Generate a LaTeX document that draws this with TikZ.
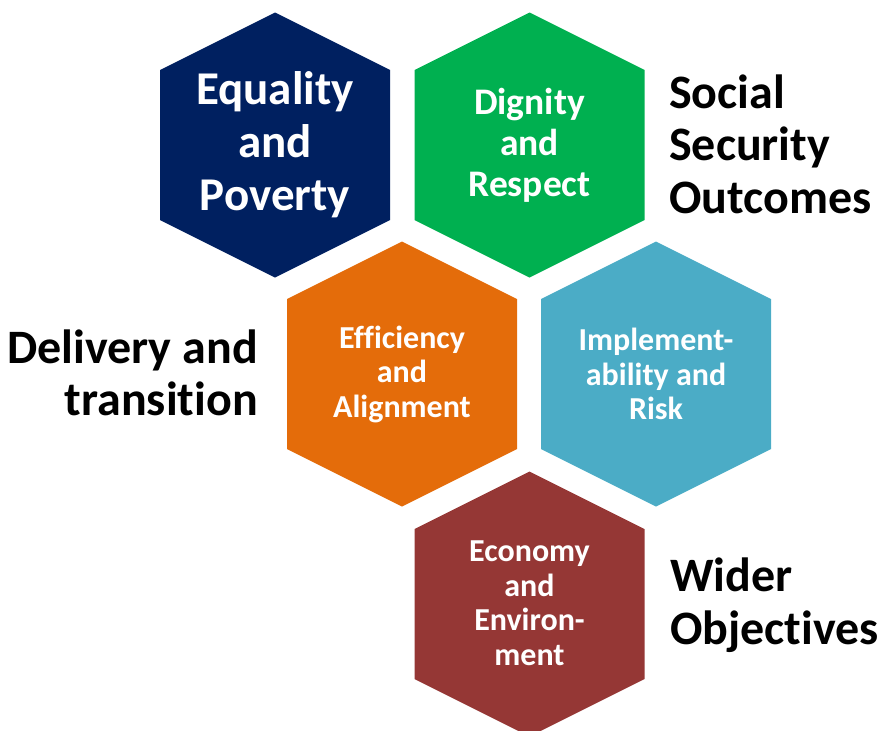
\documentclass[tikz,border=0pt]{standalone}
\usepackage{fontspec}
\setmainfont{Carlito}[Ligatures=NoCommon]
\definecolor{hexnavy}{HTML}{002060}
\definecolor{hexgreen}{HTML}{00B050}
\definecolor{hexorange}{HTML}{E46C0A}
\definecolor{hexteal}{HTML}{4BACC6}
\definecolor{hexred}{HTML}{953735}
% pointy-top hexagon centred on (#1) with fill colour #2
\newcommand\hexcell[2]{\fill[#2] (#1) ++(0,-132.5) -- ++(115,57.5) -- ++(0,150) -- ++(-115,57.5) -- ++(-115,-57.5) -- ++(0,-150) -- cycle;}
\begin{document}
\begin{tikzpicture}[x=1pt,y=-1pt,
  hextext/.style={text=white,align=center,inner sep=0pt},
  bigtext/.style={hextext,font=\bfseries\fontsize{47}{53}\selectfont},
  midtext/.style={hextext,font=\bfseries\fontsize{37.5}{41}\selectfont},
  smalltext/.style={hextext,font=\bfseries\fontsize{32}{34.5}\selectfont},
  sidelabel/.style={text=black,inner sep=0pt,font=\bfseries\fontsize{48}{52.5}\selectfont}]
\useasboundingbox (0,0) rectangle (879,731);
\clip (0,0) rectangle (879,731);
% cell centres
\coordinate (c1) at (275,145);
\coordinate (c2) at (529.5,145);
\coordinate (c3) at (402,374);
\coordinate (c4) at (656,374);
\coordinate (c5) at (529.5,604);
\hexcell{c1}{hexnavy}
\hexcell{c2}{hexgreen}
\hexcell{c3}{hexorange}
\hexcell{c4}{hexteal}
\hexcell{c5}{hexred}
% cell captions
\node[bigtext]   (t1) at (c1) {Equality\\and\\Poverty};
\node[midtext]   (t2) at (c2) {Dignity\\and\\Respect};
\node[smalltext] (t3) at (c3) {Efficiency\\and\\Alignment};
\node[smalltext] (t4) at (c4) {Implement-\\ability and\\Risk};
\node[smalltext] (t5) at ([yshift=1]c5) {Economy\\and\\Environ-\\ment};
% group labels
\node[sidelabel,align=left,anchor=west]   (l1) at (669,144) {Social\\Security\\Outcomes};
\node[sidelabel,align=right,anchor=east]  (l2) at (258,373) {Delivery and\\transition};
\node[sidelabel,align=left,anchor=west]   (l3) at (670,605) {Wider\\Objectives};
\end{tikzpicture}
\end{document}
